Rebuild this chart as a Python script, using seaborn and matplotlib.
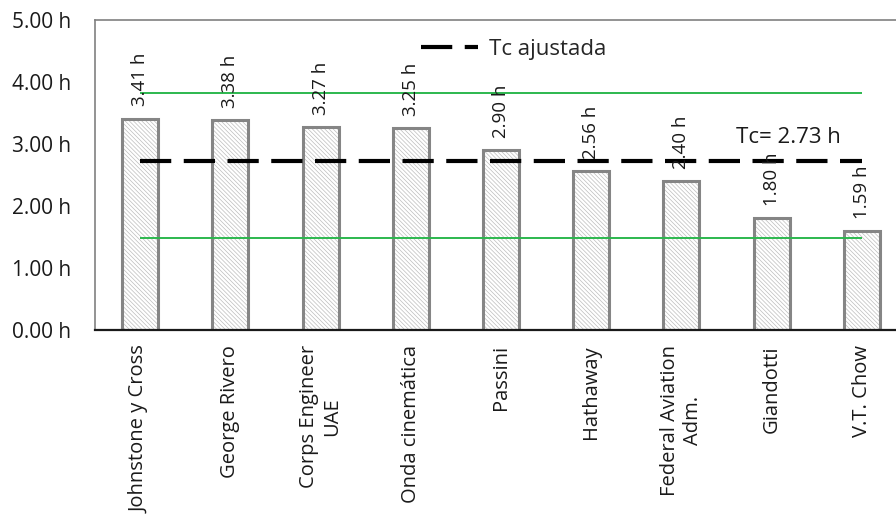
import numpy as np
import pandas as pd
import matplotlib
matplotlib.use("Agg")
import matplotlib.pyplot as plt
import seaborn as sns

# data
metodos = ["Johnstone y Cross", "George Rivero", "Corps Engineer\nUAE",
           "Onda cinemática", "Passini", "Hathaway",
           "Federal Aviation\nAdm.", "Giandotti", "V.T. Chow"]
tc_horas = [3.41, 3.38, 3.27, 3.25, 2.90, 2.56, 2.40, 1.80, 1.59]
tc_ajustada = 2.73
limite_sup = 3.82
limite_inf = 1.48
y_ticks = [0, 1, 2, 3, 4, 5]

sns.set_theme(style="white")
plt.rcParams["font.family"] = ["Open Sans", "DejaVu Sans"]
plt.rcParams["hatch.linewidth"] = 0.5

df = pd.DataFrame({"metodo": metodos, "tc": tc_horas})

fig = plt.figure(figsize=(8.96, 5.18), dpi=100)
# the original is cropped on the right, so the axes runs past the figure edge
ax = fig.add_axes([95 / 896, (518 - 330) / 518, (907 - 95) / 896, (330 - 20) / 518])

# hatched fill
sns.barplot(data=df, x="metodo", y="tc", ax=ax, color="white", width=0.4,
            edgecolor="#bdbdbd", linewidth=0, hatch="\\\\\\\\\\\\\\\\", saturation=1)
# outline
sns.barplot(data=df, x="metodo", y="tc", ax=ax, fill=False, width=0.4,
            edgecolor="#858585", linewidth=2.2)

n = len(metodos)
ax.hlines([limite_sup, limite_inf], 0, n - 1, color="#2cb84e", lw=1.4, zorder=3)
ax.hlines(tc_ajustada, 0, n - 1, color="black", lw=3, linestyles=(0, (7.5, 3)),
          zorder=4, label="Tc ajustada")

for i, v in enumerate(tc_horas):
    ax.annotate(f"{v:.2f} h", (i, v), xytext=(0, 9), textcoords="offset points",
                rotation=90, ha="center", va="bottom", fontsize=13.5, color="#1a1a1a",
                zorder=5)

ax.text(7.19, tc_ajustada + 0.38, f"Tc= {tc_ajustada:.2f} h", ha="center", va="center",
        fontsize=16, color="#1a1a1a")

ax.set_xlim(-0.5, n - 0.5)
ax.set_ylim(0, 5)
ax.set_yticks(y_ticks)
ax.set_yticklabels([f"{t:.2f} h" for t in y_ticks], fontsize=15, color="#1a1a1a")
ax.set_xticks(range(n))
ax.set_xticklabels(metodos, rotation=90, fontsize=14.5, color="#1a1a1a",
                   ha="center", va="top", multialignment="center")
ax.tick_params(axis="x", length=0, pad=11)
ax.tick_params(axis="y", length=0, pad=17)
ax.set_xlabel("")
ax.set_ylabel("")

for s in ["left", "top"]:
    ax.spines[s].set_color("#808080")
    ax.spines[s].set_linewidth(1.2)
ax.spines["right"].set_visible(False)
ax.spines["bottom"].set_color("#1a1a1a")
ax.spines["bottom"].set_linewidth(1.6)

ax.legend(loc="center left", bbox_to_anchor=(0.39, 0.905), frameon=False, fontsize=16,
          handlelength=2.6, handletextpad=0.5, borderaxespad=0)

fig.savefig("out.png", dpi=100)
